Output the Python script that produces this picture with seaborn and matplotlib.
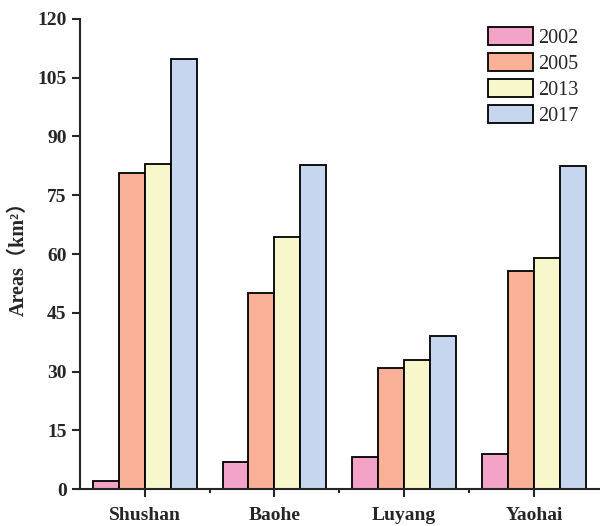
import numpy as np
import pandas as pd
import seaborn as sns
import matplotlib.pyplot as plt
from matplotlib.ticker import MultipleLocator, FixedLocator

districts = ['Shushan', 'Baohe', 'Luyang', 'Yaohai']
years = ['2002', '2005', '2013', '2017']
area_2002 = [2.0, 7.0, 8.1, 9.1]
area_2005 = [80.6, 50.0, 30.8, 55.6]
area_2013 = [83.0, 64.3, 32.9, 59.1]
area_2017 = [109.7, 82.6, 39.0, 82.5]
colors = ['#F4A3C8', '#F8B196', '#F8F7CC', '#C6D6EE']

df = pd.DataFrame({
    'district': districts * 4,
    'year': np.repeat(years, 4),
    'area': area_2002 + area_2005 + area_2013 + area_2017,
})

sns.set_style('ticks')
plt.rcParams['font.family'] = ['Liberation Serif', 'Noto Sans CJK SC']

fig = plt.figure(figsize=(6, 5.26), dpi=100)
ax = fig.add_axes([0.133, 0.070, 0.865, 0.894])

sns.barplot(data=df, x='district', y='area', hue='year', palette=colors,
            saturation=1, edgecolor='black', linewidth=1.3, width=0.8, ax=ax)

ax.set_ylim(0, 120)
ax.set_xlim(-0.5, 3.5)
ax.yaxis.set_major_locator(MultipleLocator(15))
ax.xaxis.set_minor_locator(FixedLocator([0.5, 1.5, 2.5]))
for s in ['top', 'right']:
    ax.spines[s].set_visible(False)
for s in ['left', 'bottom']:
    ax.spines[s].set_linewidth(1.5)
ax.tick_params(axis='both', which='major', direction='out', length=6, width=1.5,
               labelsize=14)
ax.tick_params(axis='x', which='major', pad=7)
ax.tick_params(axis='x', which='minor', direction='out', length=3, width=1.5)
for lab in ax.get_xticklabels() + ax.get_yticklabels():
    lab.set_fontweight('bold')

ax.set_xlabel('')
ax.set_ylabel('Areas（km²）', fontsize=14.5, fontweight='bold', labelpad=6)

h, l = ax.get_legend_handles_labels()
ax.legend(h, l, loc='upper left', bbox_to_anchor=(0.787, 0.982), frameon=False,
          fontsize=14.5, handlelength=2.2, handleheight=1.0, labelspacing=0.25,
          borderpad=0, borderaxespad=0, handletextpad=0.3)

plt.savefig('out.png', dpi=100)
